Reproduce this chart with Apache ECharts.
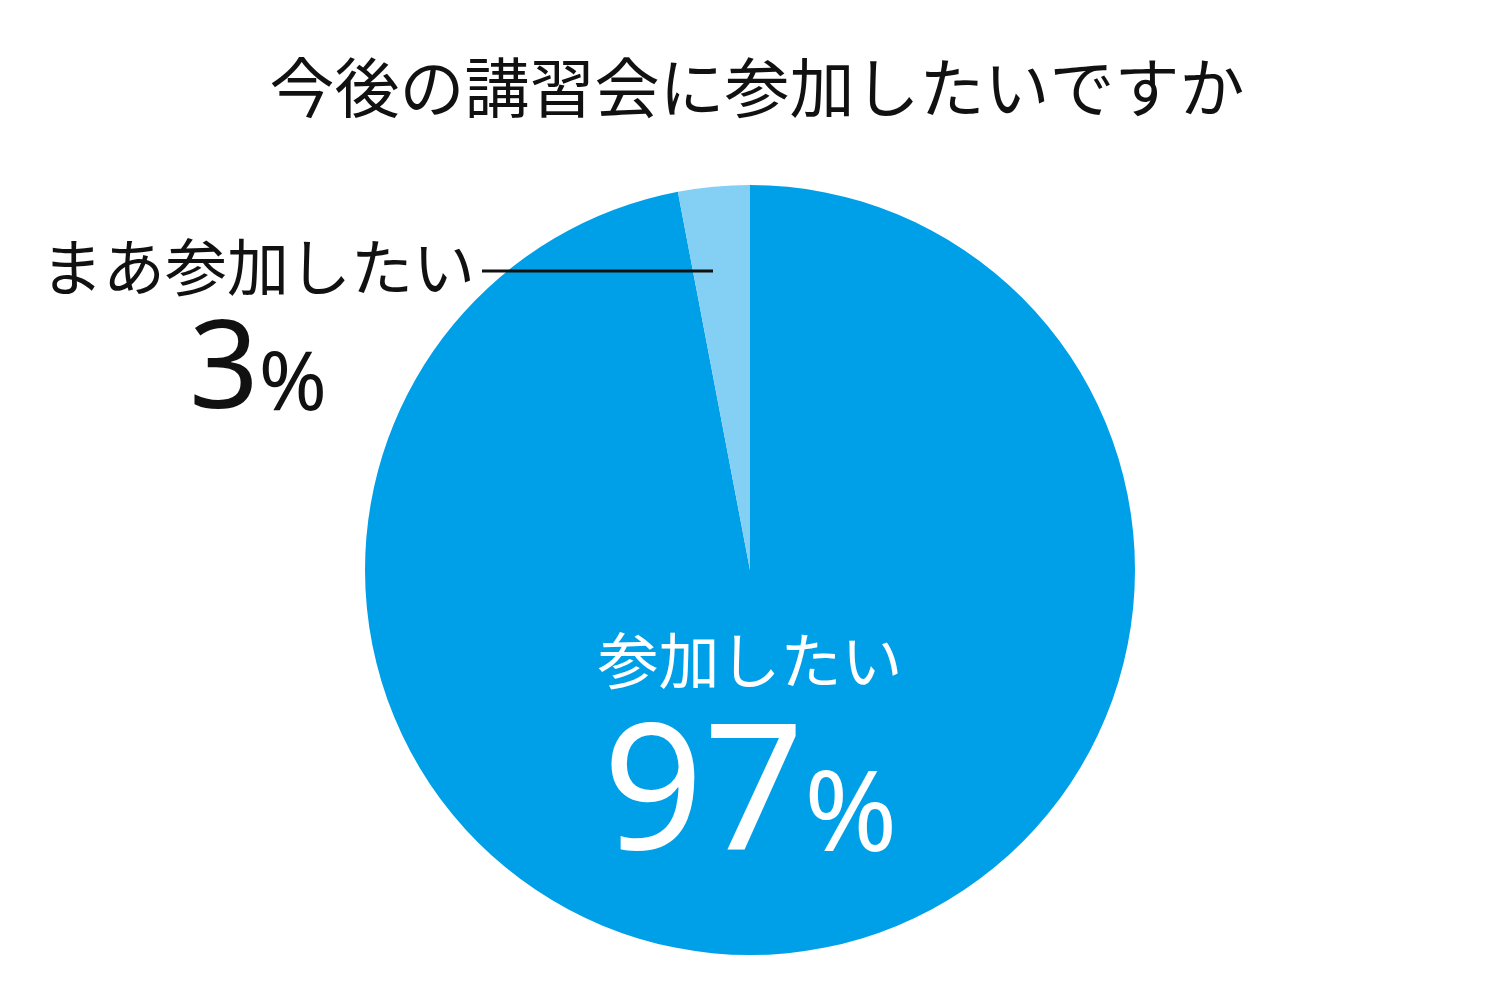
<!DOCTYPE html>
<html><head><meta charset="utf-8">
<script src="https://cdn.jsdelivr.net/npm/echarts@6/dist/echarts.min.js"></script>
<style>html,body{margin:0;padding:0;background:#fff}#c{width:1500px;height:1000px}</style>
</head><body><div id="c"></div>
<script>
const title = '今後の講習会に参加したいですか';
const categories = ['参加したい', 'まあ参加したい'];
const values = [97, 3];
const colors = ['#00A0E9', '#84CFF4'];

const chart = echarts.init(document.getElementById('c'), null, {renderer: 'canvas'});
const jp = '"Noto Sans CJK JP", "Noto Sans", sans-serif';
const num = '"Noto Sans", sans-serif';

chart.setOption({
  animation: false,
  title: {
    text: title, left: 752, top: 50, textAlign: 'center',
    textStyle: {fontFamily: jp, fontSize: 65, fontWeight: 'normal', color: '#111'}
  },
  graphic: [{
    type: 'line', z: 100,
    shape: {x1: 482, y1: 271, x2: 713, y2: 271},
    style: {stroke: '#111', lineWidth: 3}
  }],
  series: [{
    type: 'pie',
    center: [750, 570],
    radius: [0, 385],
    startAngle: 90,
    clockwise: true,
    silent: true,
    labelLine: {show: false},
    data: categories.map((c, i) => ({
      name: c, value: values[i],
      itemStyle: {color: colors[i]},
      label: i === 0 ? {
        color: '#fff',
        formatter: p => '{a|' + p.name + '}\n{b|' + p.value + '}{c|%}',
        rich: {
          a: {fontFamily: jp, fontSize: 61, color: '#fff', lineHeight: 112, align: 'center'},
          b: {fontFamily: num, fontSize: 176, color: '#fff', lineHeight: 170, verticalAlign: 'bottom'},
          c: {fontFamily: num, fontSize: 112, color: '#fff', lineHeight: 170, verticalAlign: 'bottom', padding: [0, 0, 12, 0]}
        }
      } : {
        color: '#111',
        formatter: p => '{a|' + p.name + '}\n{b|' + p.value + '}{c|%}',
        rich: {
          a: {fontFamily: jp, fontSize: 62, color: '#111', lineHeight: 104, align: 'center'},
          b: {fontFamily: num, fontSize: 122, color: '#111', lineHeight: 115, verticalAlign: 'bottom'},
          c: {fontFamily: num, fontSize: 82, color: '#111', lineHeight: 115, verticalAlign: 'bottom', padding: [0, 0, 7, 0]}
        }
      }
    })),
    label: {show: true, position: 'outside', align: 'center'},
    labelLayout: function (p) {
      if (p.dataIndex === 0) {
        return {x: 750, y: 746, align: 'center', verticalAlign: 'middle'};
      }
      return {x: 258, y: 325, align: 'center', verticalAlign: 'middle'};
    }
  }]
});
</script></body></html>
